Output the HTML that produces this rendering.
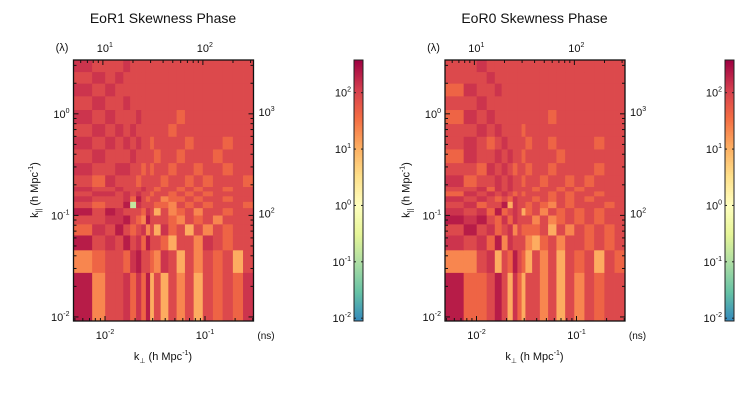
<!DOCTYPE html>
<html><head><meta charset="utf-8"><style>
body{margin:0;background:#fff;}
svg{display:block;font-family:"Liberation Sans",Arial,sans-serif;}
</style></head><body>
<svg id="chart" width="742" height="402" viewBox="0 0 742 402" xmlns="http://www.w3.org/2000/svg"></svg>
<script>
// ---- data ----
const kperpEdges = [0.00484,0.00744,0.01004,0.01264,0.01524,0.01784,0.02044,0.02304,0.02564,0.02824,0.03084,0.036,0.043,0.052,0.063,0.077,0.095,0.12,0.15,0.19,0.24,0.305];
const kparEdges = [0.0091,0.0274,0.0457,0.064,0.0823,0.1006,0.1189,0.1372,0.1555,0.1738,0.1921,0.25,0.33,0.45,0.6,0.8,1.1,1.5,2.0,2.6,3.39];
const levelValues = [-1.5,-0.8,0.6,1.05,1.35,1.65,1.95,2.15,2.35,2.5];
const eor1Rows = [
"846675758363646365657",
"456657866547636465636",
"867686758665366476566",
"576865674637563646566",
"667786548666546564666",
"868766657636456466566",
"656681766655465656665",
"766675865664556566566",
"677676766566565656666",
"766766676656656566566",
"657666566665665656665",
"766776656566566566566",
"676667666656656665666",
"767676766566665666566",
"676767666666566666666",
"767666766666656666666",
"676676666666666666666",
"767666666666666666666",
"676766666666666666666",
"766676666666666666666"];
const eor0Rows = [
"855686375366463646566",
"446736586536463656365",
"767584766643564665656",
"686756746555636465656",
"878657576664645656566",
"767585676356465656566",
"675668376656546566656",
"767656576665656565666",
"576767656566656566566",
"667576766665665656666",
"756676766566566565666",
"665767656656656666566",
"576676766566665666666",
"676567666656656666566",
"667676666566666666666",
"576766666666656666666",
"667666666666666666666",
"576676666666666666666",
"666766666666666666666",
"667666666666666666666"];
const cbarTicks = [-2,-1,0,1,2];
const xTicks = [-2,-1];
const yTicks = [-2,-1,0];
const topTicks = [1,2];
const rightTicks = [2,3];

// ---- geometry ----
const NS="http://www.w3.org/2000/svg";
const svg=document.getElementById('chart');
const P={x0:73.5,x1:253.5,y0:60,y1:321};
const xLogMin=-2.315, xLogMax=-0.515, yLogMin=-2.04, yLogMax=0.53;
const cMin=-2.05, cMax=2.58;
function xs(k,dx){return dx+P.x0+(Math.log10(k)-xLogMin)/(xLogMax-xLogMin)*(P.x1-P.x0);}
function ys(k){return P.y1-(Math.log10(k)-yLogMin)/(yLogMax-yLogMin)*(P.y1-P.y0);}
const lamFactor=1050, nsFactor=1000;
const stops=["#3288bd","#66c2a5","#abdda4","#e6f598","#ffffbf","#fee08b","#fdae61","#f46d43","#d53e4f","#9e0142"];
function hex(h){return [1,3,5].map(i=>parseInt(h.substr(i,2),16));}
function cmap(v){let t=(v-cMin)/(cMax-cMin);t=Math.max(0,Math.min(1,t))*(stops.length-1);
 const i=Math.min(stops.length-2,Math.floor(t)),f=t-i,a=hex(stops[i]),b=hex(stops[i+1]);
 return 'rgb('+a.map((c,j)=>Math.round(c+(b[j]-c)*f)).join(',')+')';}
function el(tag,attrs,parent){const e=document.createElementNS(NS,tag);for(const k in attrs)e.setAttribute(k,attrs[k]);(parent||svg).appendChild(e);return e;}
function txt(x,y,s,anchor,size,parent){const t=el('text',{x:x,y:y,'text-anchor':anchor||'middle','font-size':size||11,fill:'#111'},parent);t.innerHTML=s;return t;}
function pow(e){return '10<tspan dy="-5" font-size="7">'+e+'</tspan>';}

function panel(dx,rows,title,cbx,pname){
 const g=el('g',{});
 
 
 const hm=el('g',{},g);
 
 
 for(let r=0;r<rows.length;r++){for(let c=0;c<kperpEdges.length-1;c++){
  const v=levelValues[+rows[r][c]];
  const x0=xs(kperpEdges[c],dx),x1=xs(kperpEdges[c+1],dx),y0=ys(kparEdges[r+1]),y1=ys(kparEdges[r]);
  const rc=el('rect',{x:x0,y:y0,width:x1-x0+0.4,height:y1-y0+0.4,fill:cmap(v)},hm);
  
  
 }}
 const fr=el('rect',{x:P.x0+dx,y:P.y0,width:P.x1-P.x0,height:P.y1-P.y0,fill:'none',stroke:'#111','stroke-width':1.3},g);
 
 
 const tk={stroke:'#111','stroke-width':1};
 for(let d=-3;d<=0;d++)for(let m=1;m<10;m++){const k=m*Math.pow(10,d);const L=Math.log10(k);
  if(L>xLogMin&&L<xLogMax){const x=xs(k,dx),len=m==1?5:3;el('line',Object.assign({x1:x,x2:x,y1:P.y1,y2:P.y1-len},tk),g);}
  if(L>yLogMin&&L<yLogMax){const y=ys(k),len=m==1?5:3;el('line',Object.assign({x1:P.x0+dx,x2:P.x0+dx+len,y1:y,y2:y},tk),g);}}
 for(let d=0;d<=3;d++)for(let m=1;m<10;m++){const lam=m*Math.pow(10,d);const k=lam/lamFactor;const L=Math.log10(k);
  if(L>xLogMin&&L<xLogMax){const x=xs(k,dx),len=m==1?5:3;el('line',Object.assign({x1:x,x2:x,y1:P.y0,y2:P.y0+len},tk),g);}}
 for(let d=0;d<=4;d++)for(let m=1;m<10;m++){const ns=m*Math.pow(10,d);const k=ns/nsFactor;const L=Math.log10(k);
  if(L>yLogMin&&L<yLogMax){const y=ys(k),len=m==1?5:3;el('line',Object.assign({x1:P.x1+dx,x2:P.x1+dx-len,y1:y,y2:y},tk),g);}}
 xTicks.forEach(e=>{const t=txt(xs(Math.pow(10,e),dx),339,pow(e),'middle',11,g);});
 yTicks.forEach(e=>{const t=txt(P.x0+dx-4,ys(Math.pow(10,e))+4,pow(e),'end',11,g);});
 topTicks.forEach(e=>{const t=txt(xs(Math.pow(10,e)/lamFactor,dx)+2,52,pow(e),'middle',11,g);});
 rightTicks.forEach(e=>{const t=txt(P.x1+dx+5,ys(Math.pow(10,e)/nsFactor)+2,pow(e),'start',11,g);});
 let t=txt(163+dx,23,title,'middle',14,g);
 t=txt(62+dx,51,'(λ)','middle',11,g);
 t=txt(266+dx,339,'(ns)','middle',10,g);
 t=txt(163+dx,360,'k<tspan dy="3" font-size="7">⊥</tspan><tspan dy="-3"> (h Mpc</tspan><tspan dy="-5" font-size="7">-1</tspan><tspan dy="5">)</tspan>','middle',11,g);
 
 t=txt(0,0,'k<tspan dy="3" font-size="7">||</tspan><tspan dy="-3"> (h Mpc</tspan><tspan dy="-5" font-size="7">-1</tspan><tspan dy="5">)</tspan>','middle',11,g);
 t.setAttribute('transform','translate('+(38+dx)+',190) rotate(-90)');
 
 const cb=el('g',{},g);
 
 
 const cy0=60,cy1=321,N=131;
 for(let i=0;i<N;i++){const v=cMin+(i+0.5)/N*(cMax-cMin);const y=cy1-(i+1)/N*(cy1-cy0);
  el('rect',{x:cbx,y:y,width:9,height:(cy1-cy0)/N+0.5,fill:cmap(v)},cb);}
 el('rect',{x:cbx,y:cy0,width:9,height:cy1-cy0,fill:'none',stroke:'#222','stroke-width':1},cb);
 cbarTicks.forEach(e=>{const y=cy1-(e-cMin)/(cMax-cMin)*(cy1-cy0);
  el('line',{x1:cbx,x2:cbx+2,y1:y,y2:y,stroke:'#222'},cb);el('line',{x1:cbx+9,x2:cbx+7,y1:y,y2:y,stroke:'#222'},cb);
  const l=txt(cbx-3,y+4,pow(e),'end',11,cb);});
}
panel(0,eor1Rows,'EoR1 Skewness Phase',354,'eor1-panel');
panel(371.5,eor0Rows,'EoR0 Skewness Phase',725,'eor0-panel');
</script>
</body></html>
